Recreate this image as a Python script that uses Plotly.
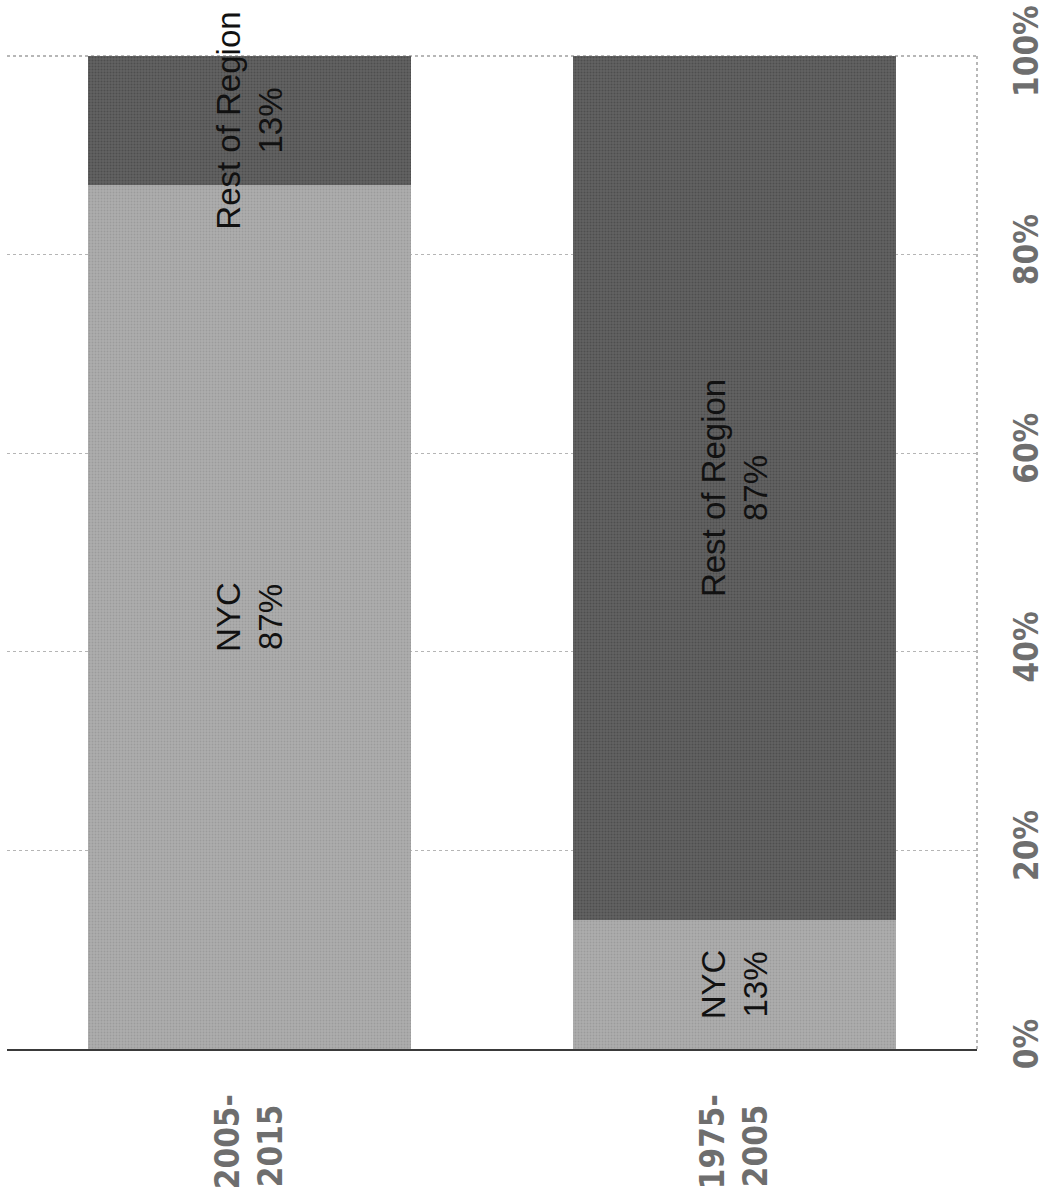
import plotly.graph_objects as go

# Share of regional growth by period
periods = ["2005-<br>2015\u00a0", "1975-<br>2005\u00a0"]
nyc_share = [0.87, 0.13]
rest_share = [0.13, 0.87]
tick_vals = [0, 0.2, 0.4, 0.6, 0.8, 1.0]
tick_text = ["0%", "20%", "40%", "60%", "80%", "100%"]

label_font = dict(family="Liberation Sans, Arial, sans-serif", size=33, color="#111111")
axis_font = dict(family="DejaVu Sans Condensed, DejaVu Sans, sans-serif",
                 size=33, color="#6e6e6e", weight="bold")


def seg_labels(name, values):
    return [f"{name}<br>{v:.0%}" for v in values]


fig = go.Figure()
fig.add_trace(go.Bar(
    name="NYC", x=periods, y=nyc_share,
    marker=dict(color="#a8a8a8", line=dict(width=0),
                pattern=dict(shape=".", size=3, solidity=0.35,
                             fgcolor="#8a8a8a", bgcolor="#adadad")),
    text=seg_labels("NYC", nyc_share), texttemplate="%{text}",
    textposition="inside", insidetextanchor="middle",
    textangle=-90, constraintext="none", textfont=label_font,
    cliponaxis=False,
))
fig.add_trace(go.Bar(
    name="Rest of Region", x=periods, y=rest_share,
    marker=dict(color="#585858", line=dict(width=0),
                pattern=dict(shape=".", size=3, solidity=0.35,
                             fgcolor="#3a3a3a", bgcolor="#626262")),
    text=seg_labels("Rest of Region", rest_share), texttemplate="%{text}",
    textposition="inside", insidetextanchor="middle",
    textangle=-90, constraintext="none", textfont=label_font,
    cliponaxis=False,
))

fig.update_layout(
    barmode="stack",
    bargap=0.336,
    width=1048, height=1194,
    margin=dict(l=7, r=71, t=56, b=145),
    paper_bgcolor="white", plot_bgcolor="white",
    showlegend=False,
    xaxis=dict(
        showgrid=False, showline=True, linecolor="#3a3a3a", linewidth=2,
        tickangle=-90, tickfont=axis_font, ticks="", ticklabelstandoff=30,
        automargin=False,
    ),
    yaxis=dict(
        range=[0, 1], side="right", tickvals=tick_vals, ticktext=tick_text,
        tickangle=-90, tickfont=axis_font, ticks="", ticklabelstandoff=27,
        showgrid=True, gridcolor="#b5b5b5", griddash="dot", gridwidth=1,
        zeroline=False, showline=False, automargin=False,
    ),
    shapes=[
        dict(type="line", xref="paper", yref="paper", x0=1, x1=1, y0=0, y1=1,
             line=dict(color="#a0a0a0", width=1.5, dash="dot"), layer="below"),
        dict(type="line", xref="paper", yref="paper", x0=0, x1=1, y0=1, y1=1,
             line=dict(color="#a0a0a0", width=1.5, dash="dot"), layer="below"),
    ],
)

fig.write_html("out.html")
